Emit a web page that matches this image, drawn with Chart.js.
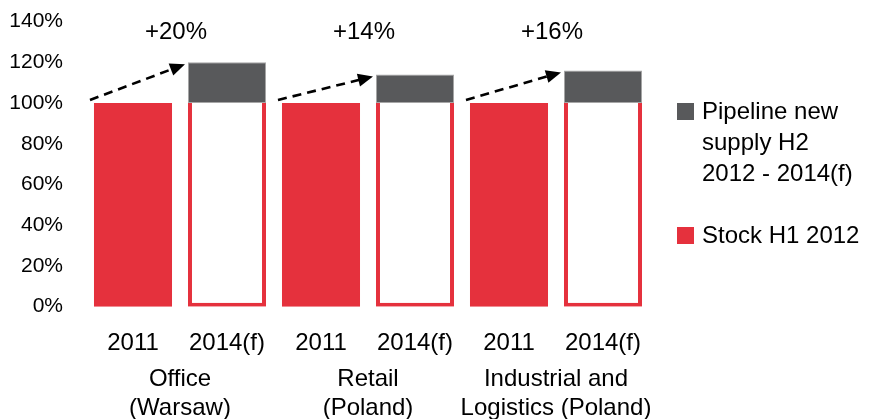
<!DOCTYPE html>
<html>
<head>
<meta charset="utf-8">
<script src="https://cdn.jsdelivr.net/npm/chart.js@4/dist/chart.umd.min.js"></script>
<style>
  html, body { margin: 0; padding: 0; background: #fff; }
  canvas { display: block; }
</style>
</head>
<body>
<canvas id="c" width="884" height="419"></canvas>
<script>
// Bars: one 2011 bar and one 2014(f) bar per segment
const categories = ['2011', '2014(f)', '2011', '2014(f)', '2011', '2014(f)'];
const groupLabels = [
  ['Office', '(Warsaw)'],
  ['Retail', '(Poland)'],
  ['Industrial and', 'Logistics (Poland)']
];
// Stock H1 2012 indexed to 100%
const stockValues = [100, 100, 100, 100, 100, 100];
// Pipeline of new supply on top of the stock, in % of stock
const pipelineValues = [null, 20, null, 14, null, 16];
const yTickValues = [0, 20, 40, 60, 80, 100, 120, 140];
const legendPipeline = ['Pipeline new', 'supply H2', '2012 - 2014(f)'];
const legendStock = ['Stock H1 2012'];

const RED = '#E5313D';
const GREY = '#58595B';
const FONT = '"Liberation Sans", Arial, sans-serif';

// Segment labels under the year ticks
const groupLabelPlugin = {
  id: 'groupLabels',
  afterDraw(chart) {
    const ctx = chart.ctx;
    const x = chart.scales.x;
    ctx.save();
    ctx.font = '24px ' + FONT;
    ctx.fillStyle = '#000';
    ctx.textAlign = 'center';
    ctx.textBaseline = 'middle';
    groupLabels.forEach((lines, g) => {
      const cx = (x.getPixelForValue(g * 2) + x.getPixelForValue(g * 2 + 1)) / 2;
      lines.forEach((t, k) => ctx.fillText(t, cx, 379 + k * 29));
    });
    ctx.restore();
  }
};

// Dashed growth arrows and "+x%" labels above each segment
const growthPlugin = {
  id: 'growth',
  afterDatasetsDraw(chart) {
    const ctx = chart.ctx;
    const stockMeta = chart.getDatasetMeta(0).data;
    const pipeMeta = chart.getDatasetMeta(1).data;
    const x = chart.scales.x;
    ctx.save();
    for (let g = 0; g < groupLabels.length; g++) {
      const a = stockMeta[g * 2];
      const b = pipeMeta[g * 2 + 1];
      const x0 = a.x - a.width / 2 - 4, y0 = a.y - 3;
      const x1 = b.x - b.width / 2 - 3, y1 = b.y + 2;
      const ang = Math.atan2(y1 - y0, x1 - x0);
      const headLen = 15, headHalf = 6.5;
      const lx = x1 - Math.cos(ang) * (headLen - 2);
      const ly = y1 - Math.sin(ang) * (headLen - 2);
      ctx.strokeStyle = '#000';
      ctx.lineWidth = 2.6;
      ctx.setLineDash([9, 6]);
      ctx.beginPath();
      ctx.moveTo(x0, y0);
      ctx.lineTo(lx, ly);
      ctx.stroke();
      ctx.setLineDash([]);
      const bx = x1 - Math.cos(ang) * headLen;
      const by = y1 - Math.sin(ang) * headLen;
      ctx.fillStyle = '#000';
      ctx.beginPath();
      ctx.moveTo(x1, y1);
      ctx.lineTo(bx + Math.sin(ang) * headHalf, by - Math.cos(ang) * headHalf);
      ctx.lineTo(bx - Math.sin(ang) * headHalf, by + Math.cos(ang) * headHalf);
      ctx.closePath();
      ctx.fill();

      const cx = (x.getPixelForValue(g * 2) + x.getPixelForValue(g * 2 + 1)) / 2 - 4;
      ctx.font = '24px ' + FONT;
      ctx.textAlign = 'center';
      ctx.textBaseline = 'middle';
      ctx.fillText('+' + pipelineValues[g * 2 + 1] + '%', cx, 32);
    }
    ctx.restore();
  }
};

// Legend on the right, with wrapped labels
const sideLegendPlugin = {
  id: 'sideLegend',
  afterDraw(chart) {
    const ctx = chart.ctx;
    ctx.save();
    ctx.font = '24px ' + FONT;
    ctx.textAlign = 'left';
    ctx.textBaseline = 'alphabetic';
    const items = [
      { color: GREY, lines: legendPipeline, top: 103 },
      { color: RED, lines: legendStock, top: 227 }
    ];
    items.forEach(it => {
      ctx.fillStyle = it.color;
      ctx.fillRect(677, it.top, 17, 17);
      ctx.fillStyle = '#000';
      it.lines.forEach((t, k) => ctx.fillText(t, 702, it.top + 16 + k * 31));
    });
    ctx.restore();
  }
};

new Chart(document.getElementById('c'), {
  type: 'bar',
  data: {
    labels: categories,
    datasets: [
      {
        label: legendStock.join(' '),
        data: stockValues,
        backgroundColor: categories.map((c, i) => i % 2 === 0 ? RED : '#FFFFFF'),
        borderColor: RED,
        borderWidth: categories.map((c, i) => i % 2 === 0 ? 0 : 4),
        borderSkipped: 'end',
        barPercentage: 0.83,
        categoryPercentage: 1
      },
      {
        label: legendPipeline.join(' '),
        data: pipelineValues,
        backgroundColor: GREY,
        borderColor: '#A6A6A6',
        borderWidth: 1,
        borderSkipped: false,
        barPercentage: 0.83,
        categoryPercentage: 1
      }
    ]
  },
  options: {
    responsive: false,
    animation: false,
    events: [],
    layout: { padding: { top: 21.5, right: 234, left: 0, bottom: 0 } },
    plugins: {
      legend: { display: false },
      tooltip: { enabled: false }
    },
    scales: {
      x: {
        stacked: true,
        grid: { display: false, drawTicks: false },
        border: { display: false },
        ticks: {
          color: '#000',
          font: { family: FONT, size: 24 },
          padding: 22,
          maxRotation: 0,
          autoSkip: false
        },
        afterFit(scale) {
          scale.height = 112.3;
          scale.paddingLeft = 0;
          scale.paddingRight = 0;
        }
      },
      y: {
        stacked: true,
        min: 0,
        max: 140,
        afterBuildTicks(scale) { scale.ticks = yTickValues.map(v => ({ value: v })); },
        grid: { display: false, drawTicks: false },
        border: { display: false },
        ticks: {
          color: '#000',
          font: { family: FONT, size: 21 },
          padding: 23,
          callback: v => v + '%'
        },
        afterFit(scale) {
          scale.width = 86;
          scale.paddingTop = 0;
          scale.paddingBottom = 0;
        }
      }
    }
  },
  plugins: [groupLabelPlugin, growthPlugin, sideLegendPlugin]
});
</script>
</body>
</html>
